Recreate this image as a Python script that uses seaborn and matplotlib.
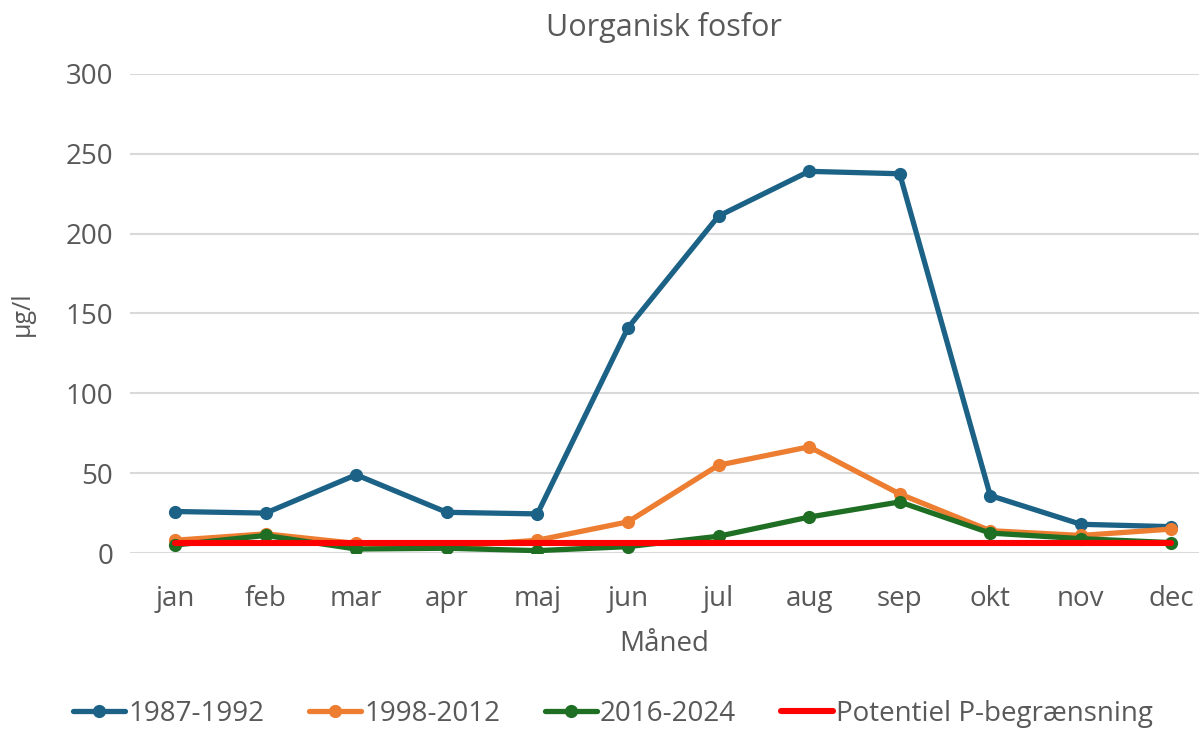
import numpy as np
import pandas as pd
import matplotlib
matplotlib.use("Agg")
import matplotlib.pyplot as plt
import seaborn as sns

months = ["jan", "feb", "mar", "apr", "maj", "jun", "jul", "aug", "sep", "okt", "nov", "dec"]
s1987 = [26, 25, 49, 25.5, 24.5, 141, 211, 239, 237.5, 36, 18, 16.5]
s1998 = [8, 12, 6, 4, 8, 19.5, 55, 66.5, 37, 14, 11, 15]
s2016 = [5, 11, 2.5, 3, 1.5, 4, 10.5, 22.5, 32, 12.5, 9, 6.5]
plim = [6] * 12
series_names = ["1987-1992", "1998-2012", "2016-2024", "Potentiel P-begrænsning"]
colors = ["#1B6286", "#ED7D31", "#1E6E23", "#FF0000"]

sns.set_theme(style="white")
plt.rcParams['font.family'] = ['Open Sans', 'DejaVu Sans']
grey = "#595959"

rows = []
for name, vals in zip(series_names, [s1987, s1998, s2016, plim]):
    for i, (m, v) in enumerate(zip(months, vals)):
        rows.append({"idx": i, "Måned": m, "value": v, "serie": name})
df = pd.DataFrame(rows)

fig = plt.figure(figsize=(12.01, 7.32), dpi=100)
ax = fig.add_axes([0.108, 0.2445, 0.89, 0.6545])

for name, col in zip(series_names, colors):
    sub = df[df["serie"] == name]
    if name == "Potentiel P-begrænsning":
        sns.lineplot(data=sub, x="idx", y="value", color=col, lw=4.4, ax=ax,
                     label=name, zorder=5)
    else:
        sns.lineplot(data=sub, x="idx", y="value", color=col, lw=3.8, marker="o",
                     markersize=9.5, markeredgewidth=0, ax=ax, label=name, zorder=3)

ax.set_xlim(-0.5, 11.3)
ax.set_ylim(0, 300)
ax.set_yticks(np.arange(0, 301, 50))
ax.set_xticks(range(12))
ax.set_xticklabels(months)
ax.yaxis.grid(True, color="#D9D9D9", lw=1.5)
ax.xaxis.grid(False)
for sp in ax.spines.values():
    sp.set_visible(False)
ax.tick_params(axis="both", colors=grey, labelsize=20, length=0)
ax.tick_params(axis="y", pad=12)
ax.tick_params(axis="x", pad=23)
ax.set_xlabel("Måned", fontsize=20, color=grey, labelpad=12)
ax.set_ylabel("µg/l", fontsize=18, color=grey, labelpad=22)
ax.set_title("Uorganisk fosfor", fontsize=22, color=grey, pad=27)

leg = ax.legend(loc="center", bbox_to_anchor=(0.452, -0.335), ncol=4, frameon=False,
                fontsize=20, handlelength=1.9, handletextpad=0.1, columnspacing=1.6,
                borderpad=0.1)
for t in leg.get_texts():
    t.set_color(grey)

fig.savefig("out.png", dpi=100)
